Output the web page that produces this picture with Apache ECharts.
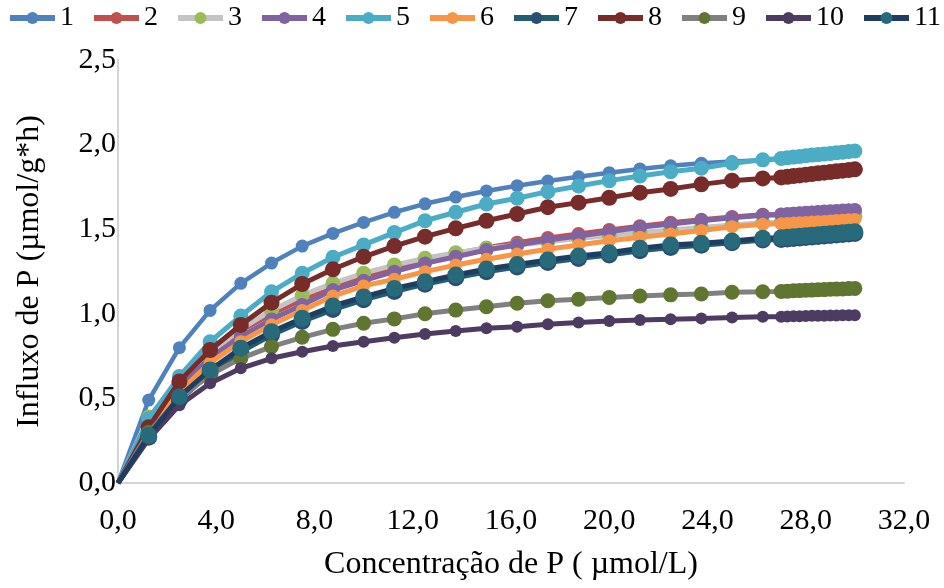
<!DOCTYPE html>
<html>
<head>
<meta charset="utf-8">
<script src="https://cdn.jsdelivr.net/npm/echarts@6/dist/echarts.min.js"></script>
<style>
  html, body { margin: 0; padding: 0; background: #ffffff; }
  #chart { width: 944px; height: 588px; }
</style>
</head>
<body>
<div id="chart"></div>
<script>
// Concentração de P (µmol/L)
var concentracao = [0, 1.25, 2.5, 3.75, 5, 6.25, 7.5, 8.75, 10, 11.25, 12.5, 13.75, 15, 16.25,
  17.5, 18.75, 20, 21.25, 22.5, 23.75, 25, 26.25,
  27, 27.25, 27.5, 27.75, 28, 28.25, 28.5, 28.75, 29, 29.25, 29.5, 29.75, 30];

// Influxo de P (µmol/g*h), one array per curve
var s1  = [0, 0.49, 0.80, 1.02, 1.18, 1.30, 1.40, 1.475, 1.54, 1.60, 1.65, 1.69, 1.726, 1.757, 1.785, 1.81, 1.834, 1.856, 1.875, 1.89, 1.90, 1.908,
  1.916, 1.920, 1.924, 1.928, 1.932, 1.936, 1.939, 1.943, 1.946, 1.950, 1.953, 1.957, 1.960];
var s2  = [0, 0.34, 0.59, 0.77, 0.90, 1.00, 1.085, 1.16, 1.22, 1.27, 1.315, 1.355, 1.39, 1.42, 1.448, 1.472, 1.495, 1.518, 1.538, 1.556, 1.572, 1.585,
  1.587, 1.589, 1.591, 1.593, 1.595, 1.597, 1.599, 1.601, 1.603, 1.605, 1.607, 1.609, 1.611];
var s3  = [0, 0.39, 0.60, 0.77, 0.91, 1.02, 1.11, 1.18, 1.24, 1.288, 1.328, 1.361, 1.387, 1.405, 1.425, 1.445, 1.463, 1.48, 1.495, 1.51, 1.525, 1.538,
  1.541, 1.544, 1.547, 1.550, 1.553, 1.556, 1.559, 1.562, 1.565, 1.568, 1.571, 1.574, 1.577];
var s4  = [0, 0.32, 0.56, 0.74, 0.865, 0.967, 1.052, 1.14, 1.196, 1.249, 1.298, 1.337, 1.377, 1.407, 1.436, 1.46, 1.485, 1.511, 1.53, 1.55, 1.568, 1.583,
  1.586, 1.589, 1.592, 1.594, 1.597, 1.599, 1.601, 1.604, 1.606, 1.608, 1.610, 1.612, 1.614];
var s5  = [0, 0.38, 0.63, 0.835, 0.987, 1.13, 1.24, 1.334, 1.407, 1.48, 1.55, 1.60, 1.649, 1.683, 1.722, 1.755, 1.787, 1.814, 1.84, 1.86, 1.89, 1.91,
  1.918, 1.922, 1.926, 1.930, 1.934, 1.938, 1.941, 1.945, 1.948, 1.952, 1.955, 1.959, 1.962];
var s6  = [0, 0.31, 0.54, 0.71, 0.835, 0.935, 1.02, 1.105, 1.165, 1.204, 1.249, 1.288, 1.322, 1.353, 1.381, 1.407, 1.432, 1.452, 1.472, 1.492, 1.515, 1.529,
  1.532, 1.534, 1.536, 1.538, 1.540, 1.542, 1.544, 1.546, 1.549, 1.551, 1.553, 1.556, 1.558];
var s7  = [0, 0.27, 0.49, 0.65, 0.775, 0.875, 0.955, 1.025, 1.083, 1.132, 1.175, 1.213, 1.248, 1.277, 1.303, 1.327, 1.348, 1.372, 1.392, 1.405, 1.42, 1.436,
  1.439, 1.442, 1.445, 1.448, 1.451, 1.454, 1.457, 1.460, 1.463, 1.466, 1.469, 1.472, 1.475];
var s8  = [0, 0.33, 0.60, 0.786, 0.934, 1.066, 1.176, 1.263, 1.337, 1.40, 1.456, 1.505, 1.55, 1.59, 1.63, 1.657, 1.686, 1.716, 1.738, 1.765, 1.787, 1.80,
  1.806, 1.810, 1.814, 1.818, 1.822, 1.826, 1.830, 1.834, 1.838, 1.842, 1.846, 1.850, 1.854];
var s9  = [0, 0.30, 0.50, 0.64, 0.737, 0.806, 0.861, 0.908, 0.944, 0.97, 1.00, 1.022, 1.042, 1.062, 1.077, 1.086, 1.097, 1.105, 1.112, 1.117, 1.127, 1.13,
  1.132, 1.134, 1.136, 1.137, 1.139, 1.140, 1.142, 1.143, 1.145, 1.146, 1.147, 1.149, 1.15];
var s10 = [0, 0.26, 0.46, 0.59, 0.678, 0.737, 0.776, 0.81, 0.835, 0.858, 0.88, 0.898, 0.914, 0.924, 0.938, 0.948, 0.957, 0.963, 0.968, 0.972, 0.978, 0.982,
  0.983, 0.984, 0.985, 0.986, 0.987, 0.988, 0.988, 0.989, 0.990, 0.990, 0.991, 0.991, 0.992];
var s11 = [0, 0.28, 0.51, 0.668, 0.796, 0.894, 0.973, 1.046, 1.10, 1.15, 1.19, 1.229, 1.265, 1.292, 1.318, 1.342, 1.361, 1.387, 1.407, 1.417, 1.43, 1.446,
  1.449, 1.452, 1.455, 1.458, 1.461, 1.464, 1.467, 1.470, 1.473, 1.476, 1.479, 1.482, 1.485];

var seriesNames = ['1', '2', '3', '4', '5', '6', '7', '8', '9', '10', '11'];
var seriesValues = [s1, s2, s3, s4, s5, s6, s7, s8, s9, s10, s11];

// line colour, marker colour, marker size, line width
var seriesStyles = [
  { line: '#4F81BD', mark: '#4F81BD', size: 13, width: 4.5 },
  { line: '#C0504D', mark: '#C0504D', size: 14, width: 5 },
  { line: '#C4C4C4', mark: '#9BBB59', size: 15, width: 5 },
  { line: '#8064A2', mark: '#8064A2', size: 14, width: 5 },
  { line: '#4BACC6', mark: '#4BACC6', size: 15, width: 5 },
  { line: '#F79646', mark: '#F79646', size: 13, width: 5 },
  { line: '#235E6E', mark: '#2C4D75', size: 17, width: 5 },
  { line: '#772C2A', mark: '#772C2A', size: 16, width: 5 },
  { line: '#808080', mark: '#5F7530', size: 15, width: 5 },
  { line: '#4D3B62', mark: '#4D3B62', size: 12, width: 5 },
  { line: '#1F3D62', mark: '#276A7C', size: 17, width: 5 }
];

var FONT = "'Liberation Serif', 'Times New Roman', serif";

function fmt(v) { return v.toFixed(1).replace('.', ','); }

var series = seriesNames.map(function (name, i) {
  var st = seriesStyles[i];
  var data = concentracao.map(function (x, j) {
    var item = { value: [x, seriesValues[i][j]] };
    if (x === 0) { item.symbol = 'none'; }
    return item;
  });
  return {
    name: name,
    type: 'line',
    data: data,
    symbol: 'circle',
    symbolSize: st.size,
    showAllSymbol: true,
    lineStyle: { color: st.line, width: st.width },
    itemStyle: { color: st.mark, borderWidth: 0 },
    emphasis: { disabled: true },
    z: 2 + i
  };
});

var chart = echarts.init(document.getElementById('chart'), null, { renderer: 'canvas' });
chart.setOption({
  animation: false,
  backgroundColor: '#ffffff',
  legend: {
    data: seriesNames,
    left: 7,
    top: 4,
    width: 944,
    itemWidth: 45,
    itemHeight: 15,
    itemGap: 17,
    lineStyle: { width: 6 },
    itemStyle: { borderWidth: 0 },
    textStyle: { fontFamily: FONT, fontSize: 28, color: '#000000', padding: [0, 0, 0, 0] },
    padding: 0
  },
  grid: { left: 118, right: 40, top: 60, bottom: 105 },
  xAxis: {
    type: 'value',
    min: 0, max: 32, interval: 4,
    name: 'Concentração de P ( µmol/L)',
    nameLocation: 'middle',
    nameGap: 66,
    nameTextStyle: { fontFamily: FONT, fontSize: 32, color: '#000000' },
    axisLine: { show: true, lineStyle: { color: '#D4D4D4', width: 2 } },
    axisTick: { show: false },
    splitLine: { show: false },
    axisLabel: { fontFamily: FONT, fontSize: 30, color: '#000000', margin: 23, formatter: fmt }
  },
  yAxis: {
    type: 'value',
    min: 0, max: 2.5, interval: 0.5,
    name: 'Influxo de P (µmol/g*h)',
    nameLocation: 'middle',
    nameGap: 72,
    nameRotate: 90,
    nameTextStyle: { fontFamily: FONT, fontSize: 32, color: '#000000' },
    axisLine: { show: true, lineStyle: { color: '#D4D4D4', width: 2 } },
    axisTick: { show: false },
    splitLine: { show: false },
    axisLabel: { fontFamily: FONT, fontSize: 30, color: '#000000', margin: 2, formatter: fmt }
  },
  series: series
});
</script>
</body>
</html>
